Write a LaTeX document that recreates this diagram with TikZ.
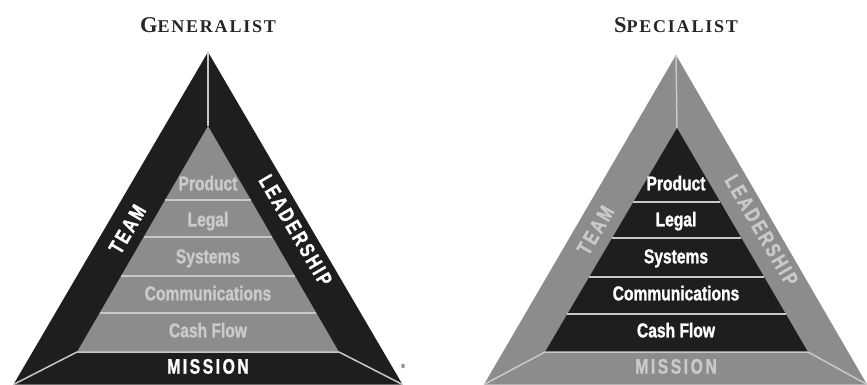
\documentclass[tikz,border=0pt]{standalone}
\usepackage{fontspec}
\usetikzlibrary{calc}
\newfontfamily\condfont[FakeStretch=0.78,FakeBold=1.2]{Liberation Sans}
\newfontfamily\widefont[FakeStretch=0.75,FakeBold=1.2,LetterSpace=12]{Liberation Sans}
\newfontfamily\titlefont[LetterSpace=10]{Liberation Serif}
\definecolor{darkfill}{HTML}{1E1E1E}
\definecolor{midfill}{HTML}{8C8C8C}
\definecolor{sepline}{HTML}{C8C8C8}
\definecolor{paletext}{HTML}{CACACA}
\definecolor{titletext}{HTML}{262626}
\tikzset{
  inlbl/.style={font=\condfont\bfseries\fontsize{20}{20}\selectfont, text height=14.6pt, text depth=0pt, inner sep=0pt},
  outlbl/.style={font=\widefont\bfseries\fontsize{21}{21}\selectfont, text height=15.3pt, text depth=0pt, inner sep=0pt},
  sepl/.style={draw=sepline, line width=1.5pt},
  ttl/.style={font=\titlefont\bfseries, text=titletext, inner sep=0pt}
}
\newcommand{\ttlword}[2]{{\fontsize{22.5}{22.5}\selectfont #1}{\fontsize{18}{18}\selectfont #2}}
\begin{document}
\begin{tikzpicture}[x=1pt,y=-1pt]
\useasboundingbox (0,0) rectangle (867,385);
\clip (0,0) rectangle (867,385);
\fill[white] (0,0) rectangle (867,385);

% ---------------- Generalist ----------------
\coordinate (gO1) at (208,52);
\coordinate (gO2) at (13.5,384.5);
\coordinate (gO3) at (402.5,384.5);
\coordinate (gI1) at (208,126);
\coordinate (gI2) at (77,352);
\coordinate (gI3) at (339,352);
\fill[darkfill] (gO1) -- (gO2) -- (gO3) -- cycle;
\fill[midfill] (gI1) -- (gI2) -- (gI3) -- cycle;
\foreach \t in {0.3274,0.4912,0.6637,0.8274}
  \draw[sepl] ($(gI1)!\t!(gI2)$) -- ($(gI1)!\t!(gI3)$);
\draw[sepl] (gO1) -- (gI1);
\draw[sepl] (gO2) -- (gI2) -- (gI3) -- (gO3);

\node[ttl] (gtitle) at (208,25) {\ttlword{G}{ENERALIST}};
\node[inlbl, text=paletext] (gprod) at (208,183) {Product};
\node[inlbl, text=paletext] (glegal) at (208,219) {Legal};
\node[inlbl, text=paletext] (gsys) at (208,256) {Systems};
\node[inlbl, text=paletext] (gcomm) at (208,293) {Communications};
\node[inlbl, text=paletext] (gcash) at (208,330) {Cash Flow};
\node[outlbl, text=white] (gmission) at (208,366) {MISSION};
\node[outlbl, text=white, rotate=59.7] (gteam) at (127,229) {TEAM};
\node[outlbl, text=white, rotate=-59.7] (glead) at (296,230) {LEADERSHIP};
\node[font=\condfont\fontsize{6}{6}\selectfont, text=gray, inner sep=0pt] (greg) at (403,366) {®};

% ---------------- Specialist ----------------
\coordinate (sO1) at (676,55);
\coordinate (sO2) at (484,384.5);
\coordinate (sO3) at (867,384.5);
\coordinate (sI1) at (677,128);
\coordinate (sI2) at (545,352);
\coordinate (sI3) at (808,352);
\fill[midfill] (sO1) -- (sO2) -- (sO3) -- cycle;
\fill[darkfill] (sI1) -- (sI2) -- (sI3) -- cycle;
\foreach \t in {0.330,0.491,0.665,0.830}
  \draw[sepl] ($(sI1)!\t!(sI2)$) -- ($(sI1)!\t!(sI3)$);
\draw[sepl] (sO1) -- (sI1);
\draw[sepl] (sO2) -- (sI2) -- (sI3) -- (sO3);

\node[ttl] (stitle) at (676,25) {\ttlword{S}{PECIALIST}};
\node[inlbl, text=white] (sprod) at (676,183) {Product};
\node[inlbl, text=white] (slegal) at (676,219) {Legal};
\node[inlbl, text=white] (ssys) at (676,256) {Systems};
\node[inlbl, text=white] (scomm) at (676,293) {Communications};
\node[inlbl, text=white] (scash) at (676,330) {Cash Flow};
\node[outlbl, text=paletext] (smission) at (676,366) {MISSION};
\node[outlbl, text=paletext, rotate=59.7] (steam) at (595,230) {TEAM};
\node[outlbl, text=paletext, rotate=-59.7] (slead) at (762,230) {LEADERSHIP};
\end{tikzpicture}
\end{document}
